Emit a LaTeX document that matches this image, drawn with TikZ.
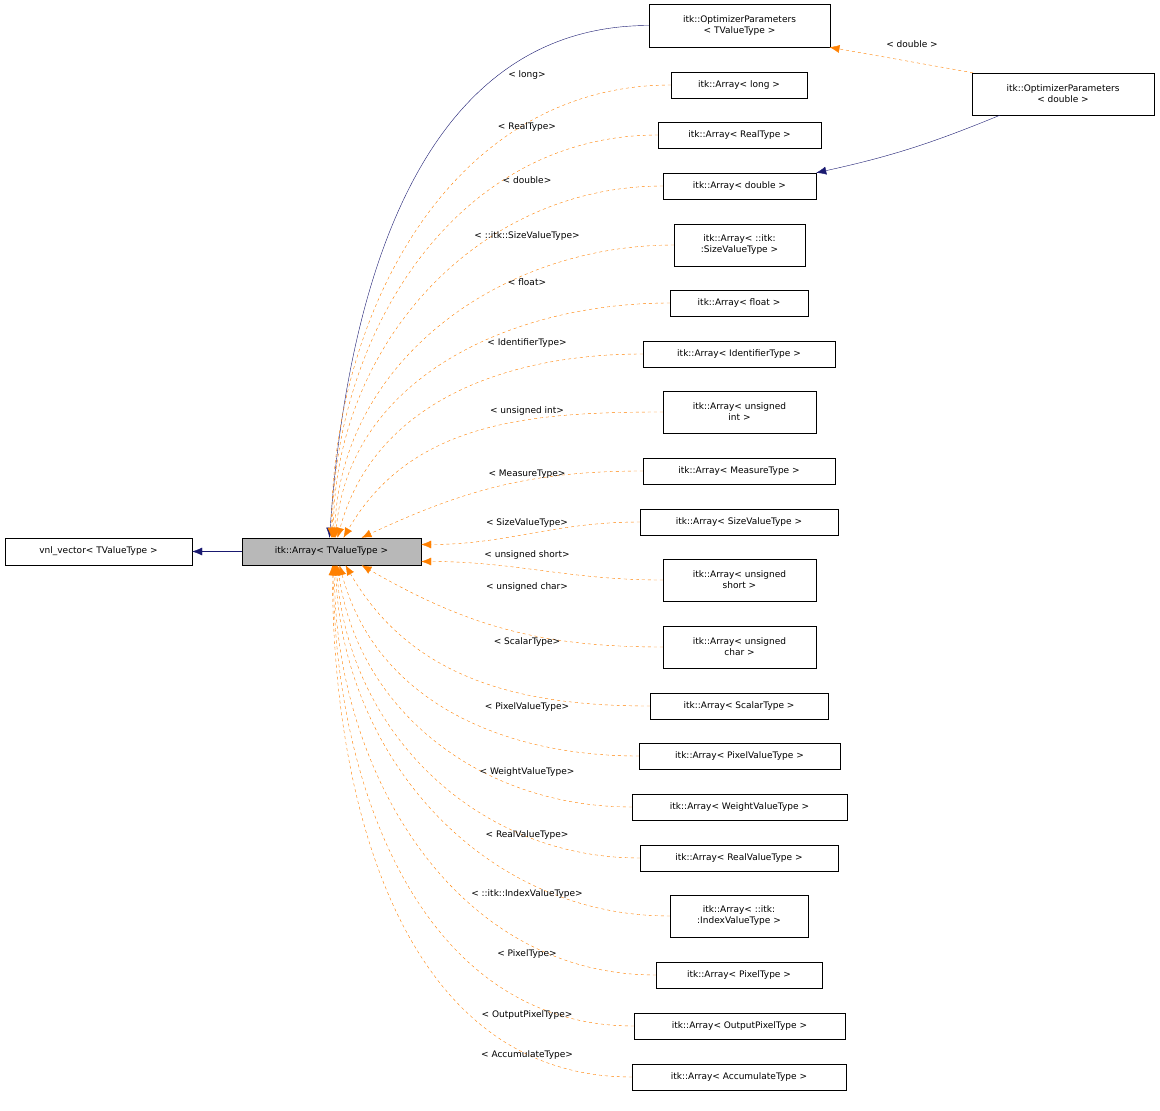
\documentclass[tikz,border=0pt]{standalone}
\usepackage{fontspec}
\setmainfont{DejaVu Sans}
\usetikzlibrary{arrows.meta}
\definecolor{navyedge}{RGB}{25,25,112}
\tikzset{
  cls/.style={draw, fill=white, inner sep=1pt, minimum height=27pt, align=center,
    font=\fontsize{9}{11}\selectfont},
  inst/.style={draw=orange, dashed, -{Latex[length=10pt,width=8pt]}},
  inh/.style={draw=navyedge, -{Latex[length=10pt,width=8pt]}},
  lab/.style={font=\fontsize{9}{11}\selectfont}
}
\begin{document}
\begin{tikzpicture}[x=1pt,y=-1pt]
\useasboundingbox (0,0) rectangle (1160,1111);

% base classes
\node[cls, minimum width=187pt] (vnl) at (98.5,551.5) {vnl\_vector< TValueType >};
\node[cls, fill=black!28, minimum width=179pt] (arr) at (331.5,551.5) {itk::Array< TValueType >};
\draw[inh] (arr) -- (vnl);

% optimizer parameters
\node[cls, minimum width=181pt, minimum height=43pt] (optT) at (739.5,25.5) {itk::OptimizerParameters\\< TValueType >};
\node[cls, minimum width=182pt, minimum height=42pt] (optD) at (1063,94) {itk::OptimizerParameters\\< double >};
\draw[inh] (optT.west) to[out=180,in=86] ([xshift=-2pt]arr.north);
\draw[inst] ([xshift=-90pt]optD.north) -- ([xshift=90pt]optT.south);
\node[lab] (ldbl) at (912,44) {< double >};

% instantiations: name / x / y / width / height / text
\foreach \n/\x/\y/\w/\h/\t in {
  long/739/85/136/26/{itk::Array< long >},
  real/739.5/135/163/26/{itk::Array< RealType >},
  dbl/739.5/186/153/26/{itk::Array< double >},
  isz/739.5/245/131/42/{itk::Array< ::itk:\\:SizeValueType >},
  flt/739/303/138/26/{itk::Array< float >},
  ident/739/354/192/26/{itk::Array< IdentifierType >},
  uint/739.5/412/153/42/{itk::Array< unsigned\\int >},
  meas/739/471/192/26/{itk::Array< MeasureType >},
  sval/739/522/198/26/{itk::Array< SizeValueType >},
  ushort/739.5/580/153/42/{itk::Array< unsigned\\short >},
  uchar/739.5/647/153/42/{itk::Array< unsigned\\char >},
  scal/739/706/178/26/{itk::Array< ScalarType >},
  pval/739.5/756/201/26/{itk::Array< PixelValueType >},
  wval/739.5/807/215/26/{itk::Array< WeightValueType >},
  rval/739/858/198/26/{itk::Array< RealValueType >},
  iidx/739/916/138/42/{itk::Array< ::itk:\\:IndexValueType >},
  pix/739/975/166/26/{itk::Array< PixelType >},
  opix/739.5/1026/211/26/{itk::Array< OutputPixelType >},
  acc/739/1077/214/26/{itk::Array< AccumulateType >}}{
  \node[cls, minimum width=\w pt, minimum height=\h pt] (c\n) at (\x,\y) {\t};
}
% edges: name / dx / dy / anchor / in angle
\foreach \n/\dx/\dy/\an/\a in {long/0/0/north/90, real/1/0/north/90,
  dbl/2/0/north/90, isz/3/0/north/88,
  flt/4/0/north/85, ident/6/0/north/75,
  uint/12/0/north/60, meas/30/0/north/25,
  sval/0/7/east/0, ushort/0/-10/east/0,
  uchar/30/0/south/-30, scal/14/0/south/-60,
  pval/8/0/south/-75, wval/6/0/south/-82,
  rval/5/0/south/-86, iidx/4/0/south/-88,
  pix/3/0/south/-90, opix/2/0/south/-90,
  acc/1/0/south/-90}{
  \draw[inst] (c\n.west) to[out=180,in=\a] ([xshift=\dx pt,yshift=\dy pt]arr.\an);
}

% labels
\foreach \n/\ly/\t in {long/75/long, real/127/RealType, dbl/180/double,
  isz/236/::itk::SizeValueType, flt/282/float, ident/343/IdentifierType,
  uint/411/unsigned int, meas/474/MeasureType, sval/523/SizeValueType,
  ushort/555/unsigned short, uchar/587/unsigned char, scal/642/ScalarType,
  pval/707/PixelValueType, wval/772/WeightValueType, rval/835/RealValueType,
  iidx/894/::itk::IndexValueType, pix/954/PixelType, opix/1015/OutputPixelType,
  acc/1055/AccumulateType}{
  \node[lab] (l\n) at (527,\ly) {< \t >};
}
\draw[inh] ([xshift=-63pt]optD.south) to[bend left=5] (cdbl.north east);
\end{tikzpicture}
\end{document}
